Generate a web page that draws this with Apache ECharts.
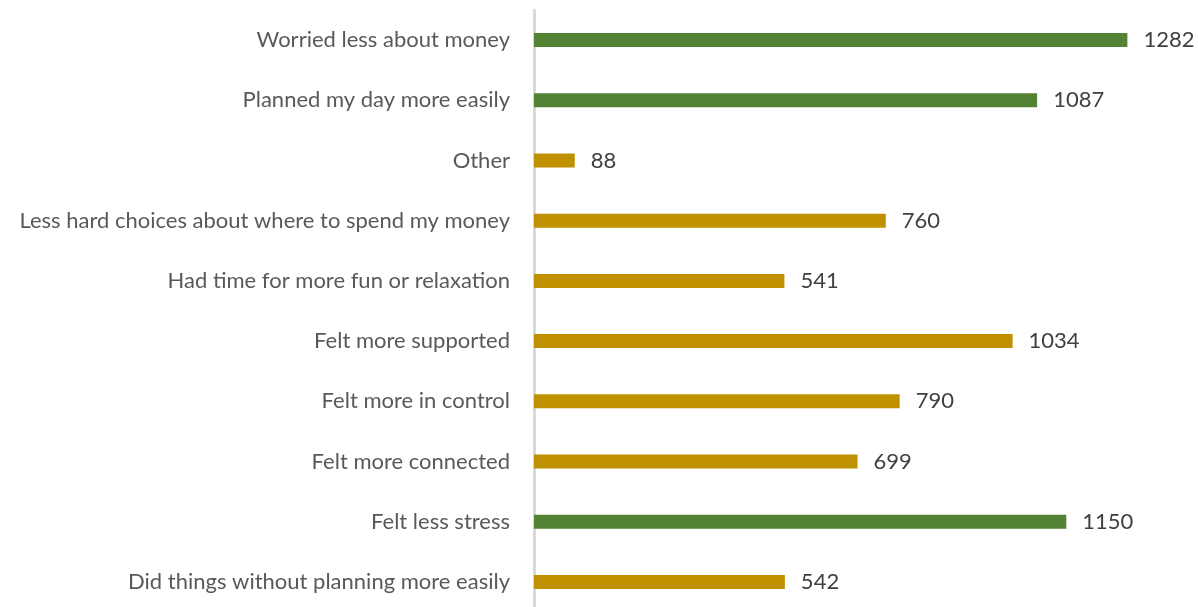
<!DOCTYPE html>
<html>
<head>
<meta charset="utf-8">
<script src="https://cdn.jsdelivr.net/npm/echarts@6/dist/echarts.min.js"></script>
<style>
  html, body { margin: 0; padding: 0; background: #fff; }
  #chart { width: 1198px; height: 607px; }
</style>
</head>
<body>
<div id="chart"></div>
<script>
// categories top to bottom
const categories = [
  'Worried less about money',
  'Planned my day more easily',
  'Other',
  'Less hard choices about where to spend my money',
  'Had time for more fun or relaxation',
  'Felt more supported',
  'Felt more in control',
  'Felt more connected',
  'Felt less stress',
  'Did things without planning more easily'
]
const values = [1282, 1087, 88, 760, 541, 1034, 790, 699, 1150, 542]
// which bars are highlighted green
const highlighted = [true, true, false, false, false, false, false, false, true, false]

const GREEN = '#548235'
const GOLD = '#BF9000'

const chart = echarts.init(document.getElementById('chart'))

chart.setOption({
  animation: false,
  grid: { left: 534, top: 10, width: 648, bottom: -5, outerBoundsMode: 'none' },
  xAxis: {
    type: 'value',
    min: 0,
    max: 1400,
    show: false
  },
  yAxis: {
    type: 'category',
    inverse: true,
    data: categories,
    axisLine: { show: true, lineStyle: { color: '#D9D9D9', width: 3 } },
    axisTick: { show: false },
    axisLabel: {
      margin: 24,
      color: '#595959',
      fontSize: 22,
      fontFamily: 'Lato'
    }
  },
  series: [{
    type: 'bar',
    barWidth: 14,
    data: values.map((v, i) => ({
      value: v,
      itemStyle: { color: highlighted[i] ? GREEN : GOLD }
    })),
    label: {
      show: true,
      position: 'right',
      distance: 16,
      color: '#404040',
      fontSize: 22,
      fontFamily: 'Lato'
    }
  }]
})
</script>
</body>
</html>
